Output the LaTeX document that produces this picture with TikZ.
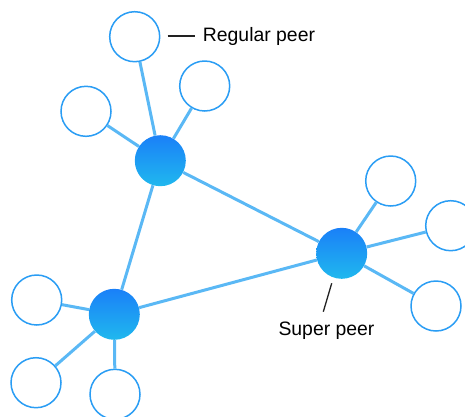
\documentclass[tikz,border=0pt]{standalone}
\usepackage{fontspec}
\setmainfont{Liberation Sans}
\begin{document}
\begin{tikzpicture}[x=1pt,y=-1pt,
  regular/.style={circle,draw=peerblue,line width=1.5pt,fill=white,minimum size=50pt,inner sep=0pt},
  super/.style={circle,minimum size=51pt,inner sep=0pt,top color=supertop,bottom color=superbot},
  link/.style={draw=linkblue,line width=3pt},
  leader/.style={draw=leadgray,line width=1.3pt},
  caption/.style={font=\fontsize{19.4}{23}\selectfont,text=black,inner sep=0pt,anchor=base west}]
\definecolor{peerblue}{HTML}{2A9DF4}
\definecolor{linkblue}{HTML}{5AB8F5}
\definecolor{supertop}{HTML}{1A80F8}
\definecolor{superbot}{HTML}{20B8EE}
\definecolor{leadgray}{HTML}{222222}
\useasboundingbox (0,0) rectangle (465,416);

% super peers
\node[super] (sa) at (160.3,160.7) {};
\node[super] (sb) at (341.7,253.3) {};
\node[super] (sc) at (114.3,314.3) {};

% regular peers
\node[regular] (r1) at (134.7,36.7) {};
\node[regular] (r2) at (204.7,86) {};
\node[regular] (r3) at (86,111.3) {};
\node[regular] (r4) at (390.7,181) {};
\node[regular] (r5) at (450.7,225.7) {};
\node[regular] (r6) at (436,306) {};
\node[regular] (r7) at (36.7,300) {};
\node[regular] (r8) at (36,382.7) {};
\node[regular] (r9) at (115,394.3) {};

% backbone between super peers
\draw[link] (sa) -- (sb);
\draw[link] (sb) -- (sc);
\draw[link] (sc) -- (sa);

% regular peers attached to their super peer
\draw[link] (sa) -- (r1);
\draw[link] (sa) -- (r2);
\draw[link] (sa) -- (r3);
\draw[link] (sb) -- (r4);
\draw[link] (sb) -- (r5);
\draw[link] (sb) -- (r6);
\draw[link] (sc) -- (r7);
\draw[link] (sc) -- (r8);
\draw[link] (sc) -- (r9);

% captions with leader lines
\node[caption] (lreg) at (202.7,41.5) {Regular peer};
\coordinate (lr1) at (167.7,36);
\coordinate (lr2) at (195,36);
\draw[leader] (lr1) -- (lr2);

\node[caption] (lsup) at (278.3,335) {Super peer};
\coordinate (ls1) at (331.7,283.3);
\coordinate (ls2) at (323.3,311.7);
\draw[leader] (ls1) -- (ls2);
\end{tikzpicture}
\end{document}
